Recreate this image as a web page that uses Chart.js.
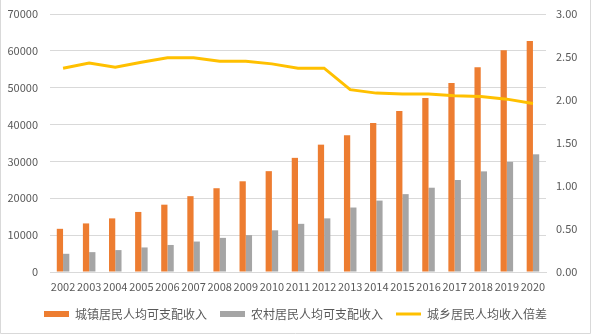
<!DOCTYPE html>
<html>
<head>
<meta charset="utf-8">
<script src="https://cdn.jsdelivr.net/npm/chart.js@4"></script>
<style>
  html, body { margin: 0; padding: 0; background: #fff; }
  #wrap { width: 591px; height: 335px; position: relative; }
</style>
</head>
<body>
<div id="wrap"><canvas id="incomeChart" width="591" height="335"></canvas></div>
<script>
const years = ["2002", "2003", "2004", "2005", "2006", "2007", "2008", "2009", "2010", "2011",
  "2012", "2013", "2014", "2015", "2016", "2017", "2018", "2019", "2020"];
const urbanIncome = [11716, 13180, 14546, 16294, 18265, 20574, 22727, 24611, 27359, 30971,
  34550, 37080, 40393, 43714, 47237, 51261, 55574, 60182, 62699];
const ruralIncome = [4940, 5389, 5944, 6660, 7335, 8265, 9258, 10007, 11303, 13071,
  14552, 17494, 19373, 21125, 22866, 24956, 27302, 29876, 31930];
const incomeRatio = [2.37, 2.43, 2.38, 2.44, 2.49, 2.49, 2.45, 2.45, 2.42, 2.37,
  2.37, 2.12, 2.08, 2.07, 2.07, 2.05, 2.04, 2.01, 1.96];

const FONT = "'Noto Sans CJK SC', 'Noto Sans', sans-serif";
const TXT = "#595959";
const GRID = "#d9d9d9";

// outer frame like the excel chart area (left, right, bottom only)
const framePlugin = {
  id: "frame",
  afterDraw(chart) {
    const { ctx, width, height } = chart;
    ctx.save();
    ctx.strokeStyle = GRID;
    ctx.lineWidth = 1;
    ctx.beginPath();
    ctx.moveTo(0.5, 0);
    ctx.lineTo(0.5, height - 1.5);
    ctx.lineTo(width - 0.5, height - 1.5);
    ctx.lineTo(width - 0.5, 0);
    ctx.stroke();
    ctx.restore();
  },
};

// fixed axis sizes so the plot area lands where the excel one does
const fitSide = (w) => (s) => {
  s.width = w;
  s.paddingTop = 0;
  s.paddingBottom = 0;
};

const ctx = document.getElementById("incomeChart").getContext("2d");
const chart = new Chart(ctx, {
  type: "bar",
  data: {
    labels: years,
    datasets: [
      {
        type: "line",
        label: "城乡居民人均收入倍差",
        data: incomeRatio,
        yAxisID: "y1",
        borderColor: "#FFC000",
        backgroundColor: "#FFC000",
        borderWidth: 3,
        pointRadius: 0,
        pointStyle: "line",
        tension: 0,
        order: 0,
      },
      {
        label: "城镇居民人均可支配收入",
        data: urbanIncome,
        backgroundColor: "#ED7D31",
        borderWidth: 0,
        pointStyle: "rect",
        barPercentage: 1,
        categoryPercentage: 0.48,
        order: 1,
      },
      {
        label: "农村居民人均可支配收入",
        data: ruralIncome,
        backgroundColor: "#A5A5A5",
        borderWidth: 0,
        pointStyle: "rect",
        barPercentage: 1,
        categoryPercentage: 0.48,
        order: 1,
      },
    ],
  },
  options: {
    responsive: false,
    animation: false,
    layout: { padding: { top: 14, right: 0, bottom: 5, left: 0 } },
    scales: {
      x: {
        grid: { display: false, drawTicks: false },
        border: { display: true, color: GRID },
        ticks: {
          color: TXT,
          font: { family: FONT, size: 11 },
          padding: 8,
          autoSkip: false,
          maxRotation: 0,
          minRotation: 0,
        },
        afterFit: (s) => { s.height = 23; },
      },
      y: {
        position: "left",
        min: 0,
        max: 70000,
        ticks: {
          stepSize: 10000,
          color: TXT,
          font: { family: FONT, size: 11 },
          padding: 12,
          callback: (v) => String(v),
        },
        grid: { color: GRID, drawTicks: false },
        border: { display: false },
        afterFit: fitSide(50),
      },
      y1: {
        position: "right",
        min: 0,
        max: 3,
        ticks: {
          stepSize: 0.5,
          color: TXT,
          font: { family: FONT, size: 11 },
          padding: 10,
          callback: (v) => v.toFixed(2),
        },
        grid: { display: false, drawTicks: false },
        border: { display: false },
        afterFit: fitSide(45),
      },
    },
    plugins: {
      legend: {
        position: "bottom",
        labels: {
          color: TXT,
          font: { family: FONT, size: 12 },
          usePointStyle: true,
          pointStyleWidth: 25,
          boxHeight: 6,
          padding: 13,
          sort: (a, b) => {
            const rank = [2, 0, 1];
            return rank[a.datasetIndex] - rank[b.datasetIndex];
          },
        },
      },
      tooltip: { enabled: false },
    },
  },
  plugins: [framePlugin],
});
</script>
</body>
</html>
